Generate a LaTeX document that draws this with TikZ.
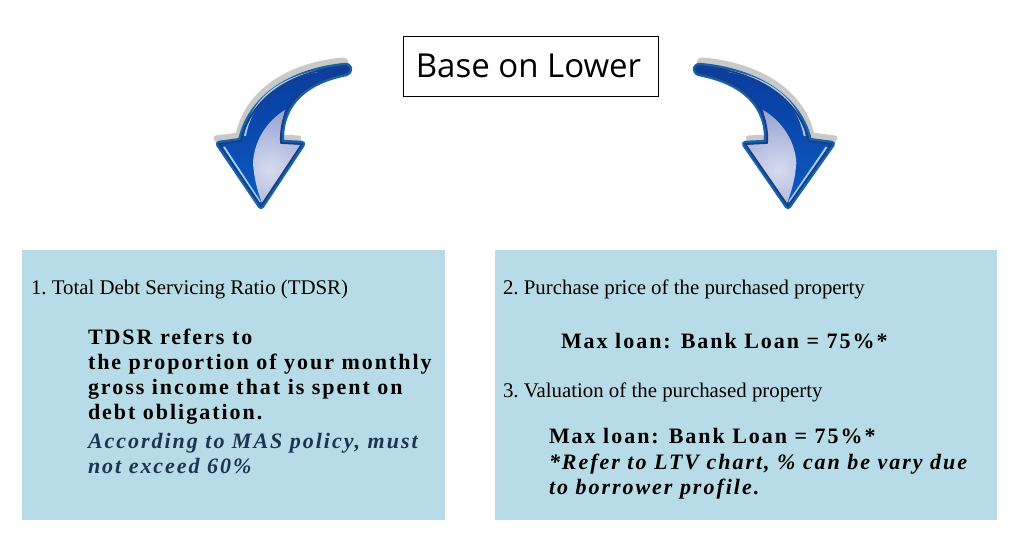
\documentclass[tikz,border=0pt]{standalone}
\usepackage{fontspec}
\setmainfont{Liberation Serif}
\newfontfamily\labelsans{Open Sans}
\newfontfamily\spacedbf[LetterSpace=9]{Liberation Serif Bold}
\newfontfamily\spacedit[LetterSpace=9]{Liberation Serif Bold Italic}
\definecolor{panel}{HTML}{B7DCE8}
\definecolor{shadowgrey}{HTML}{C9C9C9}
\definecolor{rimblue}{HTML}{1462B4}
\definecolor{inkblue}{HTML}{1D3C78}
\definecolor{bodytop}{HTML}{0A3CA0}
\definecolor{bodylow}{HTML}{0B5AC0}
\definecolor{glintblue}{HTML}{9CCBF5}
\definecolor{italicink}{HTML}{1B3550}
\definecolor{glowin}{HTML}{D5DBEF}
\definecolor{glowout}{HTML}{5A6CB5}
\tikzset{
  panelbox/.style={fill=panel,draw=none},
  titlebox/.style={draw=black,line width=0.8pt,fill=white,minimum width=255.5pt,minimum height=60pt,inner sep=0pt,font=\labelsans\fontsize{33}{38}\selectfont},
  plain/.style={inner sep=0pt,outer sep=0pt,anchor=base west,font=\frenchspacing\fontsize{20.85}{24}\selectfont},
  strongblock/.style={inner sep=0pt,outer sep=0pt,anchor=north west,align=left,font=\spacedbf\fontsize{22}{25}\selectfont},
  slantblock/.style={inner sep=0pt,outer sep=0pt,anchor=north west,align=left,text=italicink,font=\spacedit\fontsize{22}{25}\selectfont},
}
\newcommand{\bentarrowbody}{%
  (346,66) .. controls (300,70) and (252,92) .. (241,141)
  -- (219,144) -- (261,206) -- (302,144) -- (281,143)
  .. controls (279,108) and (300,82) .. (346,73)
  .. controls (350,72) and (350,66) .. (346,66) -- cycle}
\newcommand{\glowregion}{%
  (285,110) .. controls (268,120) and (254,140) .. (253,163)
  .. controls (254,178) and (257,190) .. (262,203)
  -- (301,145) -- (281,143) .. controls (280,132) and (282,120) .. (285,110) -- cycle}
\newcommand{\bentarrow}{%
  \draw[shadowgrey,fill=shadowgrey,line width=5pt,line join=round,shift={(-3pt,6pt)}] \bentarrowbody;
  \draw[rimblue,line width=6.5pt,line join=round] \bentarrowbody;
  \shade[top color=bodytop,bottom color=bodylow] \bentarrowbody;
  \begin{scope}
    \clip \glowregion;
    \shade[inner color=glowin,outer color=glowout] (150,50) rectangle (390,290);
  \end{scope}
  \draw[glintblue,line width=2pt] (318,71) .. controls (285,78) and (252,95) .. (245,136);
  \draw[glintblue,line width=2pt] (224,147) -- (260,202);
  \draw[inkblue,line width=1.8pt,line join=round] \bentarrowbody;
}
\begin{document}
\begin{tikzpicture}[x=1pt,y=-1pt]
\useasboundingbox (0,0) rectangle (1024,543);
\fill[white] (0,0) rectangle (1024,543);
\node[titlebox] (title) at (531,66) {Base on Lower\kern5pt};
\begin{scope}\bentarrow\end{scope}
\begin{scope}[xshift=1060.7pt,xscale=-1.045]\bentarrow\end{scope}
\path[panelbox] (22,250) rectangle (445,520);
\path[panelbox] (495,250) rectangle (997,520);
\node[plain] (tdsrhead) at (31,294) {1. Total Debt Servicing Ratio (TDSR)};
\node[strongblock] (tdsrdef) at (88,329) {TDSR refers to\\the proportion of your monthly\\gross income that is spent on\\debt obligation.};
\node[slantblock] (tdsrnote) at (88,433) {According to MAS policy, must\\not exceed 60\%};
\node[plain] (pricehead) at (503,294) {2. Purchase price of the purchased property};
\node[strongblock] (pricemax) at (561,333.5) {Max loan: Bank Loan = 75\%*};
\node[plain] (valhead) at (503,397) {3. Valuation of the purchased property};
\node[strongblock] (valmax) at (549,428.5) {Max loan: Bank Loan = 75\%*};
\node[slantblock,text=black] (valnote) at (549,454.5) {*Refer to LTV chart, \% can be vary due\\to borrower profile.};
\end{tikzpicture}
\end{document}
